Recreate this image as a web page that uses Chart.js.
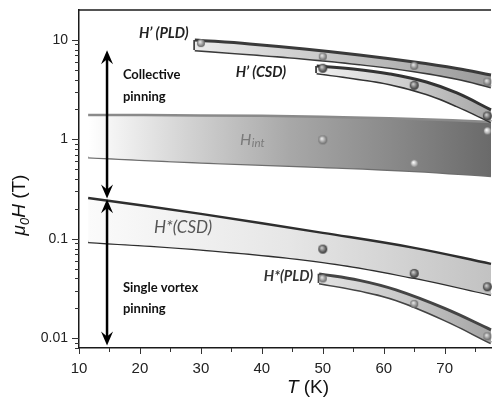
<!DOCTYPE html>
<html><head><meta charset="utf-8">
<script src="https://cdn.jsdelivr.net/npm/chart.js@4/dist/chart.umd.min.js"></script>
<style>html,body{margin:0;padding:0;background:#fff;}#wrap{width:497px;height:411px;position:relative;}</style>
</head><body><div id="wrap"><canvas id="c" width="497" height="411"></canvas></div>
<script>
// ---- data ----
// H'(PLD) band
const hpPLD_T      = [29, 38, 47, 56, 65, 72, 77.6];
const hpPLD_upper  = [10.0, 9.12, 8.12, 7.07, 6.01, 5.17, 4.45];
const hpPLD_lower  = [7.93, 7.23, 6.52, 5.74, 4.88, 4.10, 3.37];
const hpPLD_ptT    = [30, 50, 65, 77];
const hpPLD_ptH    = [9.3, 6.8, 5.5, 3.8];
// H'(CSD) band
const hpCSD_T      = [49, 55, 61, 67, 72, 77.6];
const hpCSD_upper  = [5.48, 5.11, 4.55, 3.78, 2.93, 1.98];
const hpCSD_lower  = [4.66, 4.15, 3.61, 2.87, 2.17, 1.50];
const hpCSD_ptT    = [50, 65, 77];
const hpCSD_ptH    = [5.2, 3.5, 1.72];
// H_int band
const hint_T       = [11.5, 30, 50, 65, 77.6];
const hint_upper   = [1.763, 1.743, 1.694, 1.607, 1.499];
const hint_lower   = [0.6625, 0.5872, 0.5292, 0.4825, 0.4297];
const hint_ptT     = [50, 65, 77];
const hint_ptH     = [0.99, 0.575, 1.22];
// H*(CSD) band
const hsCSD_T      = [11.5, 30, 50, 65, 77.6];
const hsCSD_upper  = [0.2582, 0.1784, 0.1149, 0.0812, 0.0561];
const hsCSD_lower  = [0.0933, 0.0784, 0.0587, 0.0406, 0.0274];
const hsCSD_ptT    = [50, 65, 77];
const hsCSD_ptH    = [0.079, 0.045, 0.033];
// H*(PLD) band
const hsPLD_T      = [49.4, 56, 62, 70, 77.6];
const hsPLD_upper  = [0.0445, 0.0383, 0.0307, 0.0200, 0.0122];
const hsPLD_lower  = [0.0361, 0.0304, 0.0244, 0.0153, 0.0090];
const hsPLD_ptT    = [50, 65, 77];
const hsPLD_ptH    = [0.040, 0.0222, 0.0105];
// regime arrows
const arrowT       = 14.6;
const arrowUpper   = [0.255, 7.9];
const arrowLower   = [0.0085, 0.25];
// axes
const xRange       = [10, 77.6];
const yRange       = [0.008, 20];
const xTickValues  = [10, 15, 20, 25, 30, 35, 40, 45, 50, 55, 60, 65, 70, 75];
const xTickLabels  = ['10', '', '20', '', '30', '', '40', '', '50', '', '60', '', '70', ''];
const yMajorTicks  = [0.01, 0.1, 1, 10];
const yTickLabels  = ['0.01', '0.1', '1', '10'];
const yMinorMults  = [2, 3, 4, 5, 6, 7, 8, 9];

// ---- helpers ----
const xy = (T, H) => T.map((t, i) => ({x: t, y: H[i]}));
function sphere(r, light, dark) {
  const c = document.createElement('canvas');
  c.width = c.height = 2 * r + 2;
  const g2 = c.getContext('2d');
  const g = g2.createRadialGradient(r * 0.75 + 1, r * 0.7 + 1, 0.3, r + 1, r + 1, r + 0.5);
  g.addColorStop(0, light); g.addColorStop(1, dark);
  g2.fillStyle = g; g2.beginPath(); g2.arc(r + 1, r + 1, r, 0, Math.PI * 2); g2.fill();
  return c;
}
const darkBall = sphere(4.5, '#d0d0d0', '#1e1e1e');
const midBall = sphere(4, '#e8e8e8', '#555555');
const greyBall = sphere(4.5, '#f0f0f0', '#5a5a5a');
const lightBall = sphere(3.5, '#ffffff', '#8a8a8a');

function grad(T0, T1, stops) {
  return (ctx) => {
    const ch = ctx.chart;
    if (!ch.chartArea) return stops[0];
    const xs = ch.scales.x;
    const g = ch.ctx.createLinearGradient(xs.getPixelForValue(T0), 0, xs.getPixelForValue(T1), 0);
    stops.forEach((c, i) => g.addColorStop(i / (stops.length - 1), c));
    return g;
  };
}
function band(T, up, lo, edge, edgeW, fillStops, edgeLo) {
  return [
    {data: xy(T, up), borderColor: edge, borderWidth: edgeW, pointRadius: 0, fill: '+1',
     backgroundColor: grad(T[0], T[T.length - 1], fillStops), tension: 0.4, order: 2},
    {data: xy(T, lo), borderColor: edgeLo || edge, borderWidth: edgeW, pointRadius: 0, fill: false,
     tension: 0.4, order: 2}
  ];
}
function cap(T, up, lo, edge, w) {
  return {data: [{x: T[0], y: up[0]}, {x: T[0], y: lo[0]}], borderColor: edge, borderWidth: w,
          pointRadius: 0, fill: false, order: 2};
}
function pts(T, H, img) {
  const arr = Array.isArray(img) ? img : T.map(() => img);
  return {data: xy(T, H), showLine: false, pointStyle: arr, pointRadius: 5, order: 0};
}

const datasets = [
  ...band(hpPLD_T, hpPLD_upper, hpPLD_lower, '#3a3a3a', 3, ['#ebebeb', '#c4c4c4', '#9a9a9a']),
  cap(hpPLD_T, hpPLD_upper, hpPLD_lower, '#3a3a3a', 3),
  ...band(hpCSD_T, hpCSD_upper, hpCSD_lower, '#333333', 3, ['#efefef', '#cfcfcf', '#a6a6a6']),
  cap(hpCSD_T, hpCSD_upper, hpCSD_lower, '#333333', 3),
  ...band(hint_T, hint_upper, hint_lower, '#8a8a8a', 2.5, ['#ffffff', '#d2d2d2', '#a8a8a8', '#8a8a8a', '#6a6a6a'], '#6e6e6e'),
  ...band(hsCSD_T, hsCSD_upper, hsCSD_lower, '#2e2e2e', 2.5, ['#fbfbfb', '#e6e6e6', '#c2c2c2']),
  ...band(hsPLD_T, hsPLD_upper, hsPLD_lower, '#444444', 3, ['#e2e2e2', '#c8c8c8', '#a4a4a4']),
  cap(hsPLD_T, hsPLD_upper, hsPLD_lower, '#444444', 3),
  pts(hpPLD_ptT, hpPLD_ptH, midBall),
  pts(hpCSD_ptT, hpCSD_ptH, darkBall),
  pts(hint_ptT, hint_ptH, [greyBall, lightBall, lightBall]),
  pts(hsCSD_ptT, hsCSD_ptH, darkBall),
  pts(hsPLD_ptT, hsPLD_ptH, midBall)
];

// annotation texts (data-anchored)
const notes = [
  {t: 'Collective', x: 17.2, y: 4.45, font: 'bold 13px Lato', color: '#111', align: 'left'},
  {t: 'pinning', x: 17.2, y: 2.67, font: 'bold 13px Lato', color: '#111', align: 'left'},
  {t: 'Single vortex', x: 17.2, y: 0.0324, font: 'bold 13px Lato', color: '#111', align: 'left'},
  {t: 'pinning', x: 17.2, y: 0.02, font: 'bold 13px Lato', color: '#111', align: 'left'},
  {t: 'H\u2019 (PLD)', x: 28.0, y: 11.7, font: 'italic bold 14.5px Lato', color: '#222', align: 'right'},
  {t: 'H\u2019 (CSD)', x: 35.7, y: 4.77, font: 'italic bold 14.5px Lato', color: '#222', align: 'left'},
  {t: 'H*(CSD)', x: 22.3, y: 0.129, font: 'italic 17px Lato', color: '#555', align: 'left'},
  {t: 'H*(PLD)', x: 48.4, y: 0.0417, font: 'italic bold 14.5px Lato', color: '#333', align: 'right'}
];

const overlay = {
  id: 'overlay',
  afterDraw(chart) {
    const ctx = chart.ctx, xs = chart.scales.x, ys = chart.scales.y, a = chart.chartArea;
    ctx.save();
    // frame: top line
    ctx.strokeStyle = '#1a1a1a'; ctx.lineWidth = 1.5;
    ctx.beginPath(); ctx.moveTo(a.left, a.top); ctx.lineTo(a.right, a.top); ctx.stroke();
    // ticks
    ctx.lineWidth = 1; ctx.strokeStyle = '#333';
    ys.ticks.forEach((tk) => {
      const p = Math.round(ys.getPixelForValue(tk.value)) + 0.5;
      const L = yMajorTicks.includes(tk.value) ? 7 : 4;
      ctx.beginPath(); ctx.moveTo(a.left - L, p); ctx.lineTo(a.left, p); ctx.stroke();
    });
    xs.ticks.forEach((tk) => {
      const p = Math.round(xs.getPixelForValue(tk.value)) + 0.5;
      const L = tk.value % 10 === 0 ? 6 : 4;
      ctx.beginPath(); ctx.moveTo(p, a.bottom); ctx.lineTo(p, a.bottom + L); ctx.stroke();
    });
    // arrows
    const ax = xs.getPixelForValue(arrowT);
    function head(y, dir) {
      ctx.beginPath();
      ctx.moveTo(ax, y);
      ctx.lineTo(ax - 6, y - dir * 14);
      ctx.lineTo(ax, y - dir * 9);
      ctx.lineTo(ax + 6, y - dir * 14);
      ctx.closePath(); ctx.fill();
    }
    function arrow(v0, v1) {
      const yb = ys.getPixelForValue(v0), yt = ys.getPixelForValue(v1);
      ctx.strokeStyle = '#000'; ctx.fillStyle = '#000'; ctx.lineWidth = 2.5;
      ctx.beginPath(); ctx.moveTo(ax, yt + 8); ctx.lineTo(ax, yb - 8); ctx.stroke();
      head(yt, -1); head(yb, 1);
    }
    arrow(arrowUpper[0], arrowUpper[1]);
    arrow(arrowLower[0], arrowLower[1]);
    // notes
    ctx.textBaseline = 'middle';
    notes.forEach((n) => {
      ctx.font = n.font; ctx.fillStyle = n.color; ctx.textAlign = n.align;
      ctx.fillText(n.t, xs.getPixelForValue(n.x), ys.getPixelForValue(n.y));
    });
    // H_int label
    ctx.textAlign = 'left'; ctx.fillStyle = '#7a7a7a';
    let hx = xs.getPixelForValue(36.4), hy = ys.getPixelForValue(1.0);
    ctx.font = 'italic 16px Lato'; ctx.fillText('H', hx, hy);
    hx += ctx.measureText('H').width + 0.5;
    ctx.font = 'italic 11.5px Lato'; ctx.fillText('int', hx, hy + 4);
    // x title
    ctx.fillStyle = '#111';
    ctx.font = 'italic 19px "Liberation Sans"';
    const w1 = ctx.measureText('T').width;
    ctx.font = '19px "Liberation Sans"';
    const w2 = ctx.measureText(' (K)').width;
    const tx = 308 - (w1 + w2) / 2;
    ctx.font = 'italic 19px "Liberation Sans"'; ctx.fillText('T', tx, 388);
    ctx.font = '19px "Liberation Sans"'; ctx.fillText(' (K)', tx + w1, 388);
    // y title
    ctx.translate(20, 205); ctx.rotate(-Math.PI / 2);
    const parts = [
      {t: '\u03bc', f: 'italic 19px "Liberation Sans"', dy: 0},
      {t: '0', f: 'italic 13px "Liberation Sans"', dy: 5},
      {t: 'H', f: 'italic 19px "Liberation Sans"', dy: 0},
      {t: ' (T)', f: '19px "Liberation Sans"', dy: 0}
    ];
    let tot = 0;
    parts.forEach((p) => { ctx.font = p.f; p.w = ctx.measureText(p.t).width; tot += p.w; });
    let px = -tot / 2;
    parts.forEach((p) => { ctx.font = p.f; ctx.fillText(p.t, px, p.dy); px += p.w; });
    ctx.restore();
  }
};

// y tick list: majors + minor decades
const yTickValues = [];
for (let d = -3; d <= 1; d++) {
  yMinorMults.concat([1]).forEach((m) => {
    const v = +(m * Math.pow(10, d)).toPrecision(6);
    if (v >= yRange[0] && v < yRange[1]) yTickValues.push(v);
  });
}
yTickValues.sort((a, b) => a - b);

new Chart(document.getElementById('c'), {
  type: 'scatter',
  data: {datasets: datasets.map((d) => Object.assign({showLine: d.showLine !== false, clip: false}, d))},
  options: {
    responsive: false, animation: false, devicePixelRatio: 1,
    layout: {padding: {top: 10, right: 0, left: 0, bottom: 0}},
    plugins: {legend: {display: false}, tooltip: {enabled: false}},
    scales: {
      x: {
        type: 'linear', min: xRange[0], max: xRange[1],
        afterBuildTicks: (s) => { s.ticks = xTickValues.map((v) => ({value: v})); },
        afterFit: (s) => { s.height = 63; },
        ticks: {autoSkip: false, maxRotation: 0, padding: 12, color: '#222',
                font: {family: 'Liberation Sans', size: 15},
                callback: (v) => { const i = xTickValues.indexOf(v); return i >= 0 ? xTickLabels[i] : ''; }},
        grid: {display: true, drawOnChartArea: false, drawTicks: false, color: 'rgba(0,0,0,0)'},
        border: {display: true, color: '#1a1a1a', width: 1.5}
      },
      y: {
        type: 'logarithmic', min: yRange[0], max: yRange[1],
        afterBuildTicks: (s) => { s.ticks = yTickValues.map((v) => ({value: v})); },
        afterFit: (s) => { s.width = 79; s.paddingTop = 0; s.paddingBottom = 0; },
        ticks: {autoSkip: false, padding: 11, color: '#222',
                font: {family: 'Liberation Sans', size: 14},
                callback: (v) => { const i = yMajorTicks.indexOf(v); return i >= 0 ? yTickLabels[i] : ''; }},
        grid: {display: true, drawOnChartArea: false, drawTicks: false, color: 'rgba(0,0,0,0)'},
        border: {display: true, color: '#1a1a1a', width: 1.5}
      }
    }
  },
  plugins: [overlay]
});
</script></body></html>
